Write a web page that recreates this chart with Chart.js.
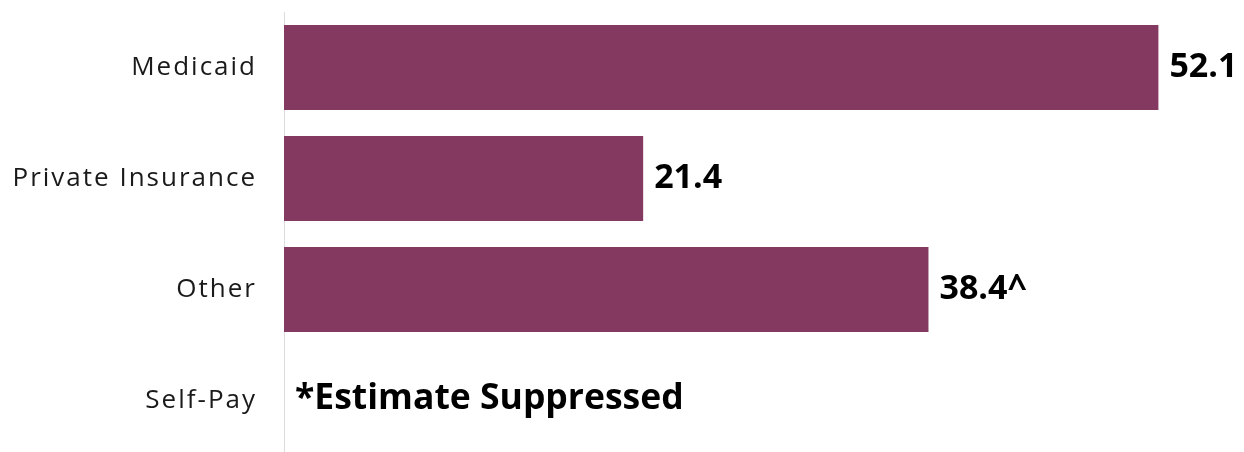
<!DOCTYPE html>
<html>
<head>
<meta charset="utf-8">
<script src="https://cdn.jsdelivr.net/npm/chart.js@4"></script>
<style>
  html, body { margin: 0; padding: 0; background: #fff; overflow: hidden; }
  /* last slot runs a few px past the bottom edge, as in the original */
  #wrap { width: 1244px; height: 456px; position: relative; }
</style>
</head>
<body>
<div id="wrap"><canvas id="chart"></canvas></div>
<script>
const categories = ['Medicaid', 'Private Insurance', 'Other', 'Self-Pay'];
const values = [52.1, 21.4, 38.4, null];
const valueLabels = ['52.1', '21.4', '38.4^', '*Estimate Suppressed'];

const barColor = '#843a60';

// spaced-out tick labels like the original
const tickSpacing = {
    id: 'tickSpacing',
    beforeDraw(chart) { chart.ctx.letterSpacing = '2px'; },
    afterDraw(chart) { chart.ctx.letterSpacing = '0px'; }
};

// draws the number next to each bar (or the suppressed note)
const barLabels = {
    id: 'barLabels',
    afterDatasetsDraw(chart) {
        const ctx = chart.ctx;
        const meta = chart.getDatasetMeta(0);
        const area = chart.chartArea;
        ctx.save();
        ctx.letterSpacing = '0px';
        ctx.fillStyle = '#000';
        ctx.textBaseline = 'middle';
        ctx.textAlign = 'left';
        meta.data.forEach((bar, i) => {
            const yPos = chart.scales.y.getPixelForValue(i);
            if (values[i] == null) {
                ctx.font = 'bold 35.5px "Open Sans"';
                ctx.fillText(valueLabels[i], area.left + 11, yPos - 2);
            } else {
                ctx.font = 'bold 34px "Open Sans"';
                ctx.fillText(valueLabels[i], bar.x + 11, yPos);
            }
        });
        ctx.restore();
    }
};

new Chart(document.getElementById('chart'), {
    type: 'bar',
    data: {
        labels: categories,
        datasets: [{
            data: values,
            backgroundColor: barColor,
            borderWidth: 0,
            barPercentage: 0.766,
            categoryPercentage: 1
        }]
    },
    options: {
        indexAxis: 'y',
        responsive: true,
        maintainAspectRatio: false,
        animation: false,
        layout: { padding: { top: 12, right: 0, bottom: 0, left: 0 } },
        plugins: { legend: { display: false }, tooltip: { enabled: false } },
        scales: {
            x: { display: false, min: 0, max: 57.2 },
            y: {
                afterFit(scale) {
                    scale.width = 284;
                    scale.paddingTop = 0;
                    scale.paddingBottom = 0;
                },
                grid: { display: false },
                border: { display: true, color: '#dcdcdc', width: 1 },
                ticks: {
                    color: '#1a1a1a',
                    padding: 19,
                    font: { family: 'Open Sans', size: 26 }
                }
            }
        }
    },
    plugins: [tickSpacing, barLabels]
});
</script>
</body>
</html>
